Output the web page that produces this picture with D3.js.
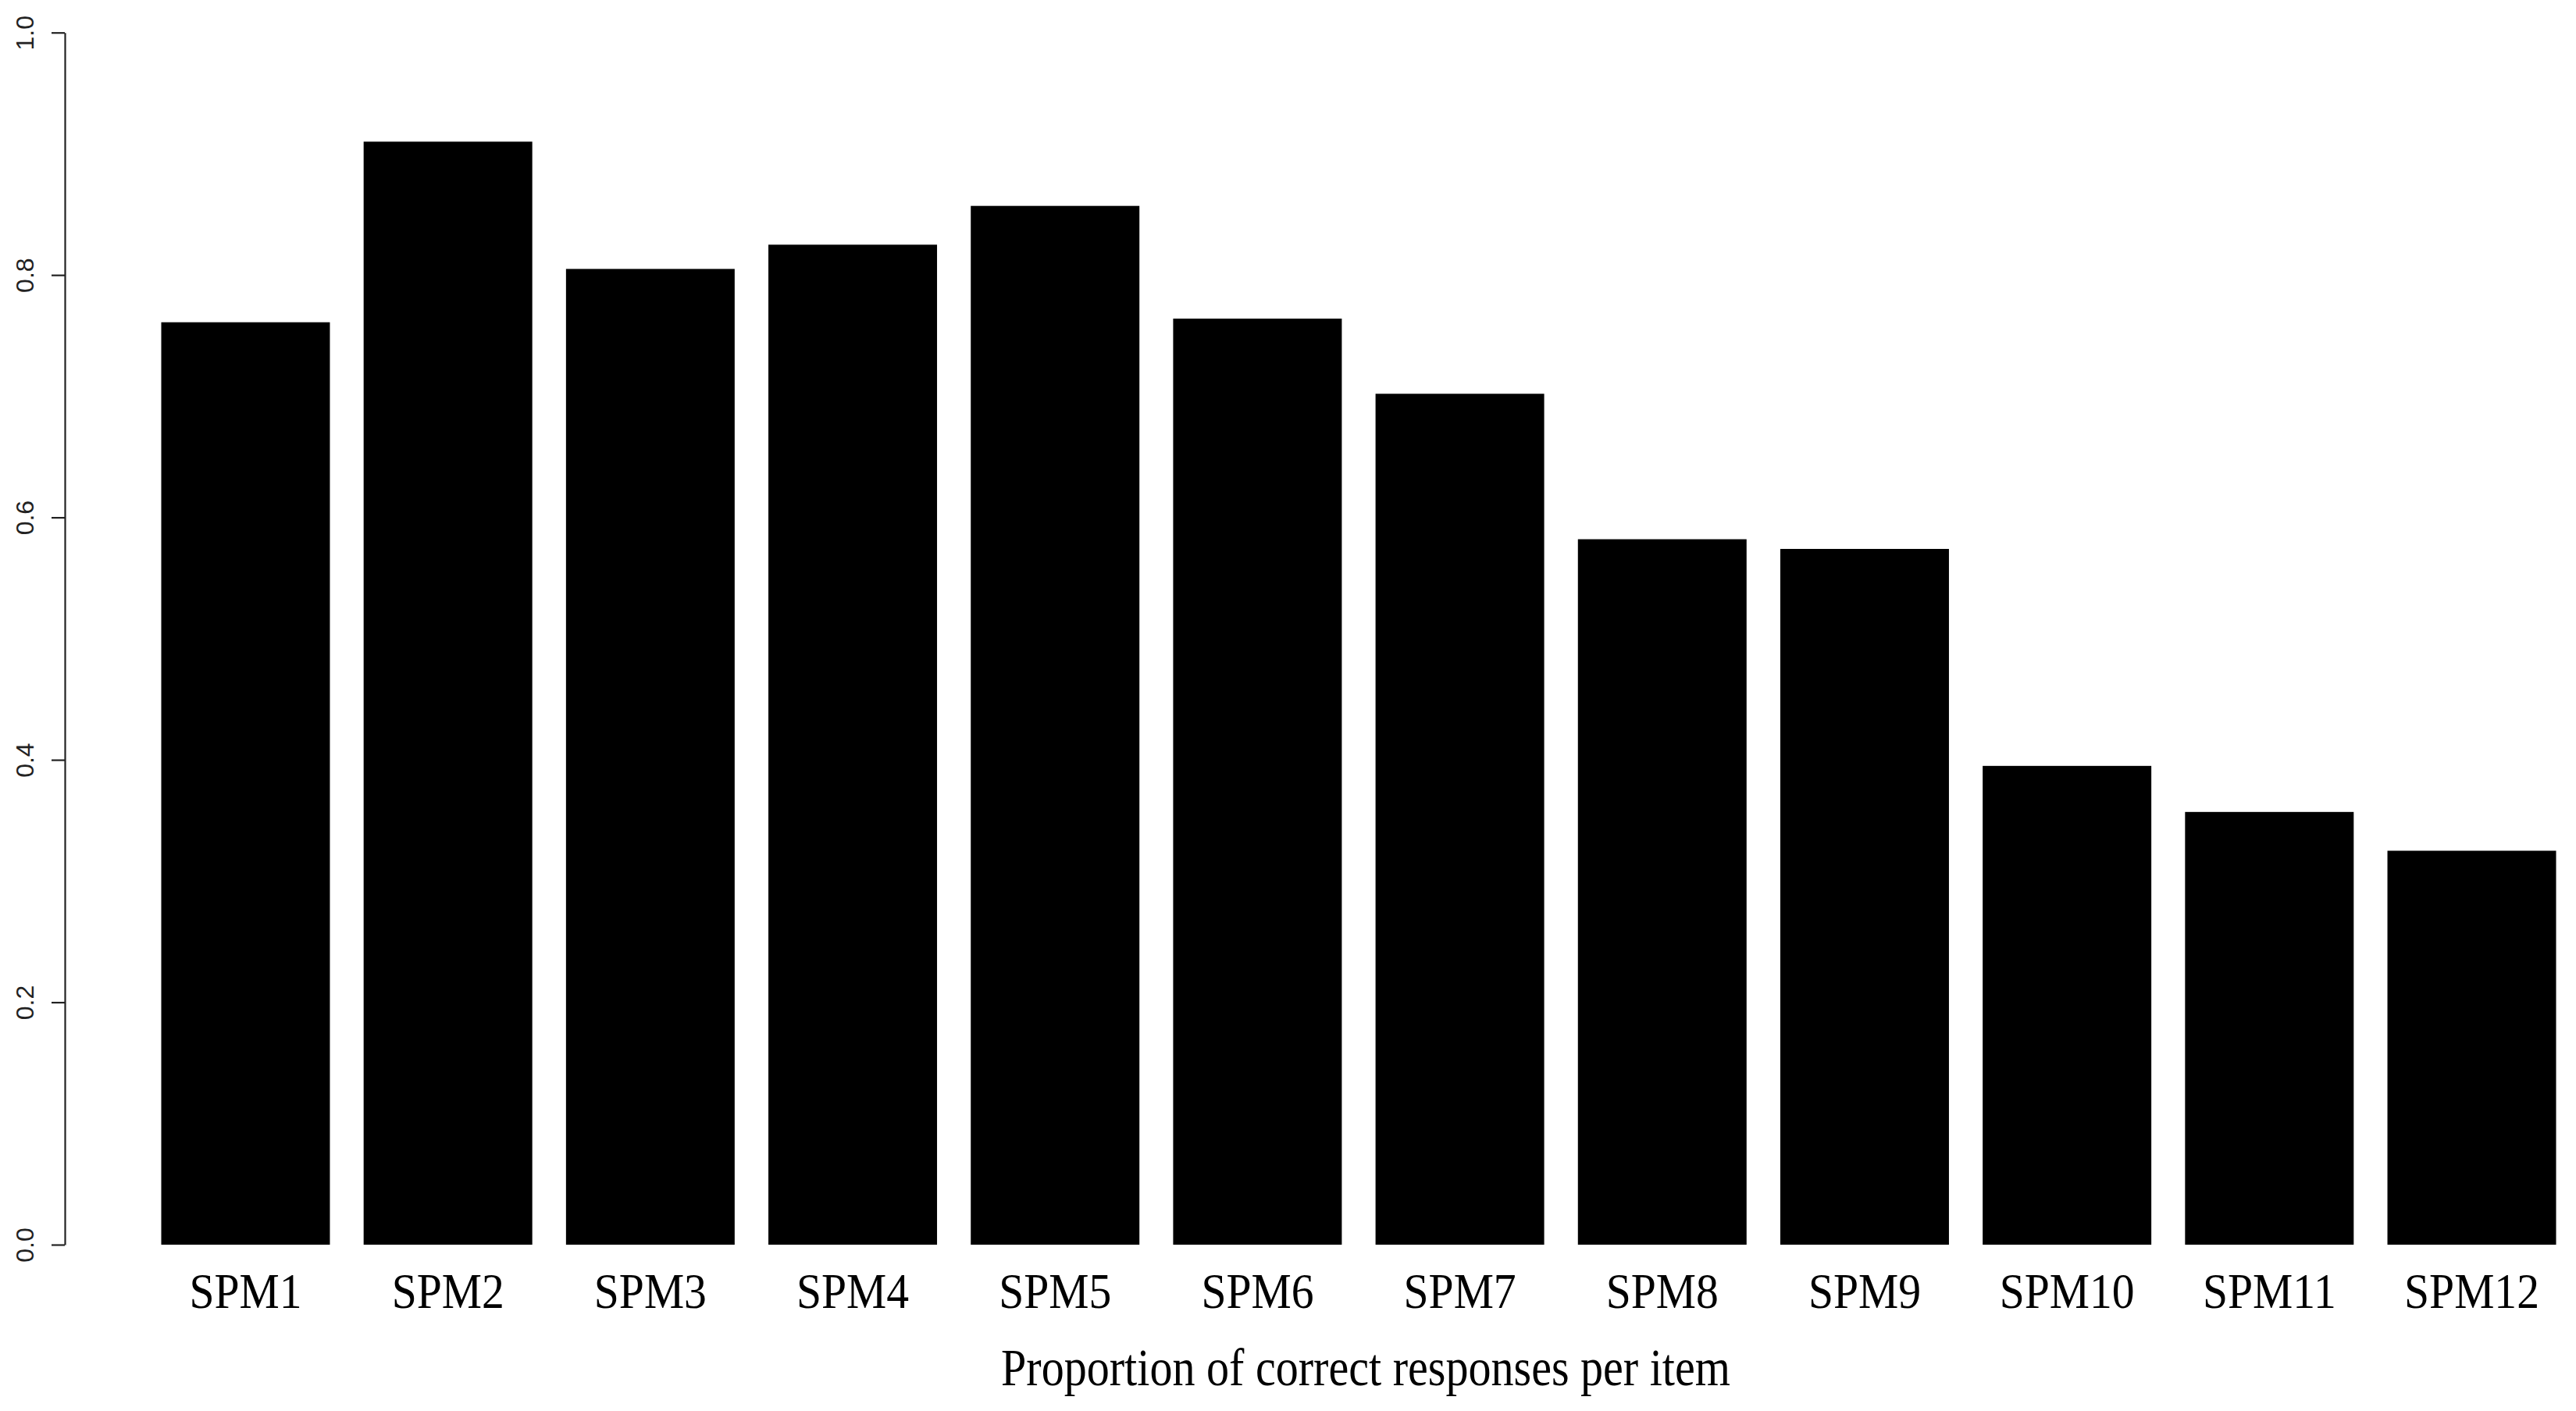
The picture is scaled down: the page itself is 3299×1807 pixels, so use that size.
<!DOCTYPE html>
<html>
<head>
<meta charset="utf-8">
<script src="https://cdn.jsdelivr.net/npm/d3@7"></script>
<style>
  body { margin: 0; background: #fff; }
  svg { display: block; }
</style>
</head>
<body>
<div class="container"></div>
<script>
const items = ['SPM1', 'SPM2', 'SPM3', 'SPM4', 'SPM5', 'SPM6', 'SPM7', 'SPM8', 'SPM9', 'SPM10', 'SPM11', 'SPM12'];
const proportions = [0.761, 0.910, 0.805, 0.825, 0.857, 0.764, 0.702, 0.582, 0.574, 0.395, 0.357, 0.325];
const yTicks = [0, 0.2, 0.4, 0.6, 0.8, 1.0];
const xTitle = 'Proportion of correct responses per item';

const width = 3299,
    height = 1807,
    axisX = 83;

const svg = d3.select('.container')
    .append('svg')
    .attr('width', width)
    .attr('height', height);

const x = d3.scaleBand()
    .domain(items)
    .range([206.5, 3273.5])
    .paddingInner(1 / 6)
    .paddingOuter(0);

const y = d3.scaleLinear()
    .domain([0, 1])
    .range([1594, 41.7]);

// bars
svg.append('g')
    .selectAll('rect')
    .data(items)
    .enter()
    .append('rect')
    .attr('x', d => x(d))
    .attr('width', x.bandwidth())
    .attr('y', (d, i) => y(proportions[i]))
    .attr('height', (d, i) => y(0) - y(proportions[i]))
    .attr('fill', '#000');

// y axis, R style
const yAxis = svg.append('g')
    .attr('transform', `translate(${axisX},0)`)
    .call(d3.axisLeft(y)
        .tickValues(yTicks)
        .tickFormat(d3.format('.1f'))
        .tickSize(17)
        .tickSizeOuter(0));

yAxis.select('.domain').attr('stroke', '#222').attr('stroke-width', 2.2);
yAxis.selectAll('.tick line').attr('stroke', '#222').attr('stroke-width', 2.2);
yAxis.selectAll('.tick text')
    .attr('transform', 'rotate(-90)')
    .attr('x', 0)
    .attr('y', -40)
    .attr('dy', 0)
    .attr('text-anchor', 'middle')
    .attr('fill', '#222')
    .style('font-family', '"Liberation Sans", Arial, sans-serif')
    .style('font-size', '32px');

// category labels
const xAxis = svg.append('g')
    .attr('transform', `translate(0,${y(0)})`)
    .call(d3.axisBottom(x).tickSize(0));

xAxis.select('.domain').remove();
xAxis.selectAll('.tick text')
    .attr('y', 81)
    .attr('dy', 0)
    .attr('fill', '#000')
    .style('font-family', '"Liberation Serif", "Times New Roman", serif')
    .style('font-size', '64px')
    .each(function(){
        const len = this.getComputedTextLength();
        d3.select(this)
            .attr('textLength', len * 0.9)
            .attr('lengthAdjust', 'spacingAndGlyphs');
    });

// axis title
svg.append('text')
    .attr('x', 1749)
    .attr('y', 1774)
    .attr('text-anchor', 'middle')
    .attr('fill', '#000')
    .style('font-family', '"Liberation Serif", "Times New Roman", serif')
    .style('font-size', '67px')
    .text(xTitle)
    .each(function(){
        const len = this.getComputedTextLength();
        d3.select(this)
            .attr('textLength', len * 0.867)
            .attr('lengthAdjust', 'spacingAndGlyphs');
    });
</script>
</body>
</html>
